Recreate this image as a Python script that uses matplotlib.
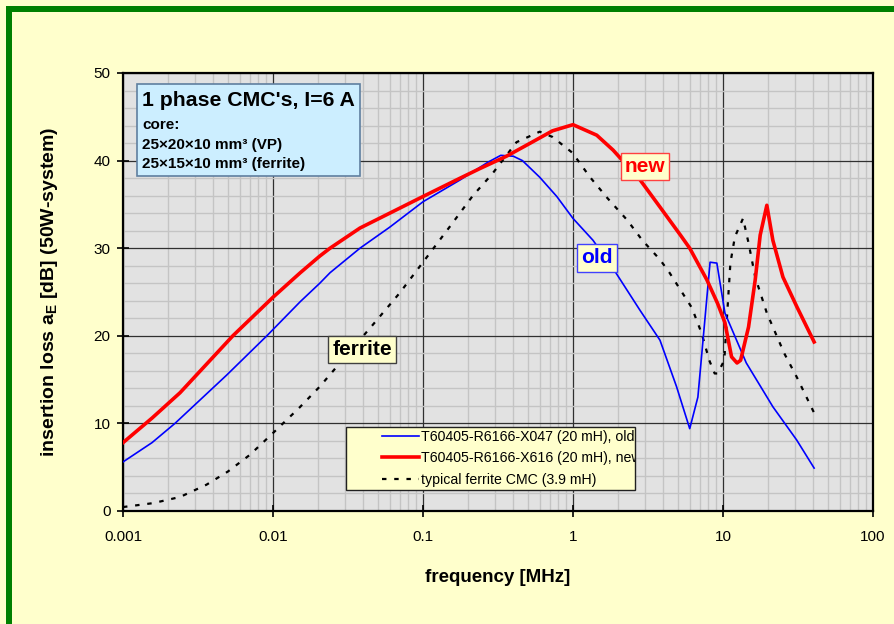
import matplotlib
matplotlib.use("Agg")
import matplotlib.pyplot as plt
from matplotlib.ticker import FixedLocator, FixedFormatter, MultipleLocator, NullFormatter
from matplotlib.patches import Rectangle

plt.rcParams['font.family'] = ['Liberation Sans', 'DejaVu Sans']
plt.rcParams['mathtext.fontset'] = 'custom'
plt.rcParams['mathtext.rm'] = 'Liberation Sans:bold'
plt.rcParams['mathtext.bf'] = 'Liberation Sans:bold'

# ---------------- data ----------------
old_f = [0.001, 0.00156, 0.00222, 0.0049, 0.0091, 0.0152, 0.0205, 0.024, 0.038, 0.06,
         0.1, 0.177, 0.27, 0.33, 0.4, 0.46, 0.6, 0.78, 1.0, 1.36, 1.93, 2.8, 3.8, 4.9,
         6.0, 6.8, 8.2, 9.1, 10.3, 14.3, 21.5, 31, 40.5]
old_db = [5.6, 7.8, 10.0, 15.5, 20.0, 23.9, 26.0, 27.2, 30.0, 32.4,
          35.3, 37.8, 39.8, 40.6, 40.5, 40.0, 38.1, 35.9, 33.4, 30.9, 27.2, 22.9, 19.5, 14.2,
          9.4, 13.0, 28.4, 28.3, 22.6, 16.9, 11.9, 8.1, 4.9]

new_f = [0.001, 0.00156, 0.0024, 0.0054, 0.01, 0.0152, 0.0205, 0.024, 0.038, 0.06,
         0.1, 0.177, 0.24, 0.36, 0.52, 0.73, 1.0, 1.44, 1.85, 2.8, 3.8, 5.2, 6.0, 7.8,
         9.2, 10.3, 11.4, 12.4, 13.1, 14.8, 16.4, 17.7, 19.6, 21.5, 25.1, 31.1, 40.5]
new_db = [7.8, 10.6, 13.5, 20.0, 24.4, 27.2, 29.1, 30.0, 32.3, 34.0,
          35.9, 38.0, 39.1, 40.5, 42.0, 43.4, 44.1, 42.9, 41.2, 37.8, 34.7, 31.5, 30.0, 26.4,
          23.7, 21.5, 17.6, 16.9, 17.2, 21.0, 26.4, 31.5, 34.9, 30.9, 26.7, 23.3, 19.3]

ferrite_f = [0.001, 0.00159, 0.0024, 0.0036, 0.005, 0.007, 0.01, 0.015, 0.0205, 0.0267,
             0.046, 0.07, 0.1, 0.15, 0.215, 0.29, 0.42, 0.6, 0.73, 0.99, 1.3, 1.7, 2.3,
             2.9, 3.8, 4.4, 6.2, 7.2, 8.1, 8.8, 9.2, 10.2, 10.6, 11.2, 12.0, 13.6, 14.8,
             16.4, 19.6, 25.6, 31, 40.5]
ferrite_db = [0.45, 0.9, 1.6, 3.0, 4.5, 6.4, 8.9, 11.8, 14.2, 16.5,
              21.2, 24.9, 28.4, 32.4, 36.0, 38.5, 42.1, 43.3, 42.7, 40.9, 38.1, 35.7, 33.2,
              30.9, 28.7, 27.2, 23.2, 20.3, 17.2, 15.7, 15.7, 17.2, 21.8, 28.3, 31.3, 33.4, 30.6,
              26.7, 22.6, 18.0, 15.3, 11.2]

x_ticks = [0.001, 0.01, 0.1, 1, 10, 100]
x_tick_labels = ['0.001', '0.01', '0.1', '1', '10', '100']
y_ticks = [0, 10, 20, 30, 40, 50]

legend_labels = ['T60405-R6166-X047 (20 mH), old',
                 'T60405-R6166-X616 (20 mH), new',
                 'typical ferrite CMC (3.9 mH)']

info_title = "1 phase CMC's, I=6 A"
info_lines = ["core:", "25×20×10 mm³ (VP)", "25×15×10 mm³ (ferrite)"]

# ---------------- figure ----------------
W, H = 895, 624
fig = plt.figure(figsize=(W / 100, H / 100), dpi=100, facecolor='#ffffcc')

# green frame (left and top)
fig.patches.append(Rectangle((6 / W, 0), 6 / W, 1 - 6 / H, transform=fig.transFigure,
                             facecolor='#008000', edgecolor='none'))
fig.patches.append(Rectangle((6 / W, 1 - 12 / H), 1 - 6 / W, 6 / H, transform=fig.transFigure,
                             facecolor='#008000', edgecolor='none'))

ax_l, ax_r, ax_t, ax_b = 123, 873, 73, 511
AW, AH = ax_r - ax_l, ax_b - ax_t
ax = fig.add_axes([ax_l / W, 1 - ax_b / H, AW / W, AH / H])
ax.set_facecolor('#e2e2e2')
ax.set_xscale('log')
ax.set_xlim(0.001, 100)
ax.set_ylim(0, 50)

ax.xaxis.set_major_locator(FixedLocator(x_ticks))
ax.xaxis.set_major_formatter(FixedFormatter(x_tick_labels))
ax.xaxis.set_minor_locator(FixedLocator([d * m for d in [0.001, 0.01, 0.1, 1, 10] for m in range(2, 10)]))
ax.xaxis.set_minor_formatter(NullFormatter())
ax.yaxis.set_major_locator(FixedLocator(y_ticks))
ax.yaxis.set_minor_locator(MultipleLocator(2))

ax.grid(True, which='minor', color='#c4c4c4', linewidth=1.0)
ax.grid(True, which='major', color='#303030', linewidth=0.9)
ax.set_axisbelow(True)
ax.tick_params(which='minor', length=0)
ax.tick_params(which='major', direction='inout', length=8, width=1.2, labelsize=11,
               colors='black')
ax.tick_params(axis='x', which='major', pad=10)
ax.tick_params(axis='y', which='major', pad=5)

for s in ax.spines.values():
    s.set_color('black')
    s.set_linewidth(1.6)

ax.plot(old_f, old_db, color='#0000ff', linewidth=1.2, label=legend_labels[0], zorder=4)
ax.plot(new_f, new_db, color='#ff0000', linewidth=2.6, label=legend_labels[1], zorder=5)
ax.plot(ferrite_f, ferrite_db, color='black', linewidth=1.6, linestyle=(0, (2, 3.5)),
        label=legend_labels[2], zorder=3)

ax.set_xlabel('frequency [MHz]', fontsize=13.5, fontweight='bold', labelpad=18)
ax.set_ylabel(r'insertion loss a$_{\mathbf{E}}$ [dB] (50W-system)', fontsize=14,
              fontweight='bold', labelpad=24)

# legend: fixed background box + frameless legend
leg_rect = Rectangle(((346 - ax_l) / AW, (ax_b - 490) / AH), 289 / AW, 63 / AH,
                     transform=ax.transAxes, facecolor='#ffffcc', edgecolor='#202020',
                     linewidth=1.0, zorder=6)
ax.add_patch(leg_rect)
leg = ax.legend(loc='upper left', bbox_to_anchor=((382 - ax_l) / AW, (ax_b - 429.5) / AH),
                fontsize=10.2, frameon=False, handlelength=2.6, labelspacing=0.53,
                borderpad=0, handletextpad=0.15, borderaxespad=0)
leg.set_zorder(7)
for t in leg.get_texts():
    t.set_clip_path(leg_rect)

# info box
ax.add_patch(Rectangle(((137 - ax_l) / AW, (ax_b - 176) / AH), 223 / AW, 92 / AH,
                       transform=ax.transAxes, facecolor='#cceeff', edgecolor='#5f7f9f',
                       linewidth=1.2, zorder=6))
ax.text((142 - ax_l) / AW, (ax_b - 101) / AH, info_title, transform=ax.transAxes,
        fontsize=15.3, fontweight='bold', va='center', ha='left', zorder=7)
for i, line in enumerate(info_lines):
    ax.text((142 - ax_l) / AW, (ax_b - (125 + 19.5 * i)) / AH, line, transform=ax.transAxes,
            fontsize=11, fontweight='bold', va='center', ha='left', zorder=7)

# curve labels
lbl = dict(fontsize=15, fontweight='bold', ha='center', va='center', zorder=7)
ax.text(3.02, 39.3, 'new', color='#ff0000',
        bbox=dict(boxstyle='square,pad=0.2', facecolor='#ffffcc', edgecolor='#ff4040', linewidth=1), **lbl)
ax.text(1.445, 28.9, 'old', color='#0000ff',
        bbox=dict(boxstyle='square,pad=0.2', facecolor='#ffffcc', edgecolor='#4040ff', linewidth=1), **lbl)
ax.text(0.0392, 18.4, 'ferrite', color='black',
        bbox=dict(boxstyle='square,pad=0.2', facecolor='#ffffcc', edgecolor='#404040', linewidth=1), **lbl)

fig.savefig('out.png', dpi=100, facecolor=fig.get_facecolor())
